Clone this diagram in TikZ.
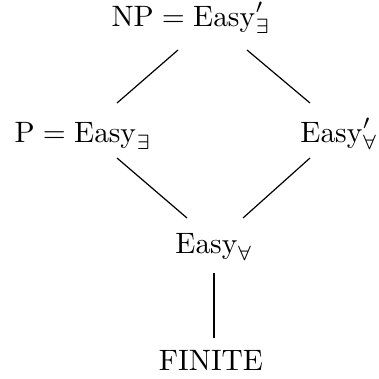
\documentclass[tikz,border=0pt]{standalone}
\usepackage{amsmath}
\begin{document}
\begin{tikzpicture}[x=1pt,y=-1pt,
  cls/.style={anchor=base,inner sep=0pt,scale=2.95},
  edge/.style={line width=1.2pt}]
\useasboundingbox (0,0) rectangle (379,378);
% complexity classes
\node[cls] (np) at (191,26) {$\mathrm{NP} = \mathrm{Easy}'_{\exists}$};
\node[cls] (p) at (83,142) {$\mathrm{P} = \mathrm{Easy}_{\exists}$};
\node[cls] (ea) at (339,142) {$\mathrm{Easy}'_{\forall}$};
\node[cls] (eu) at (214,253) {$\mathrm{Easy}_{\forall}$};
\node[cls] (fin) at (211,370) {FINITE};
% end points of the inclusion lines
\coordinate (np-l) at (178,50);
\coordinate (np-r) at (247,50);
\coordinate (p-t) at (117,103);
\coordinate (p-b) at (117,158);
\coordinate (ea-t) at (310,103);
\coordinate (ea-b) at (310,158);
\coordinate (eu-l) at (187,218);
\coordinate (eu-r) at (243,218);
\coordinate (eu-b) at (214,273);
\coordinate (fin-t) at (214,338);
\draw[edge] (np-l) -- (p-t);
\draw[edge] (np-r) -- (ea-t);
\draw[edge] (p-b) -- (eu-l);
\draw[edge] (ea-b) -- (eu-r);
\draw[edge] (eu-b) -- (fin-t);
\end{tikzpicture}
\end{document}
